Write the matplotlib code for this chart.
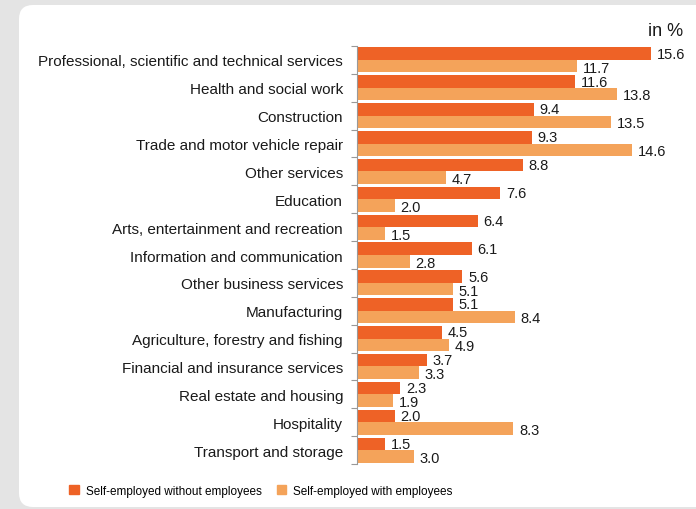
import numpy as np
import matplotlib.pyplot as plt
from matplotlib.patches import FancyBboxPatch, Patch

plt.rcParams['font.family'] = ['Liberation Sans', 'DejaVu Sans']

categories = ['Professional, scientific and technical services', 'Health and social work',
              'Construction', 'Trade and motor vehicle repair', 'Other services', 'Education',
              'Arts, entertainment and recreation', 'Information and communication',
              'Other business services', 'Manufacturing', 'Agriculture, forestry and fishing',
              'Financial and insurance services', 'Real estate and housing', 'Hospitality',
              'Transport and storage']
without_emp = [15.6, 11.6, 9.4, 9.3, 8.8, 7.6, 6.4, 6.1, 5.6, 5.1, 4.5, 3.7, 2.3, 2.0, 1.5]
with_emp = [11.7, 13.8, 13.5, 14.6, 4.7, 2.0, 1.5, 2.8, 5.1, 8.4, 4.9, 3.3, 1.9, 8.3, 3.0]

dark = '#EE6226'
light = '#F4A35A'

fig = plt.figure(figsize=(6.96, 5.10), dpi=100, facecolor='#e4e4e4')
# white rounded panel (inches)
box = FancyBboxPatch((0.19, 0.02), 7.0, 5.02, boxstyle='round,pad=0,rounding_size=0.14',
                     transform=fig.dpi_scale_trans, facecolor='white', edgecolor='none', zorder=-1)
fig.patches.append(box)

ax = fig.add_axes([357/696, 45/510, 339/696, 418/510])
ax.set_zorder(2)
ax.set_facecolor('none')
y = np.arange(len(categories))
h = 0.45
ax.barh(y - h/2, without_emp, height=h, color=dark)
ax.barh(y + h/2, with_emp, height=h, color=light)
for i in range(len(categories)):
    ax.text(without_emp[i] + 0.3, y[i] - h/2, f'{without_emp[i]:.1f}', va='center', ha='left',
            fontsize=10.5, color='#1a1a1a')
    ax.text(with_emp[i] + 0.3, y[i] + h/2 + 0.05, f'{with_emp[i]:.1f}', va='center', ha='left',
            fontsize=10.5, color='#1a1a1a')

ax.set_xlim(0, 18)
ax.set_ylim(len(categories) - 0.5, -0.5)
ax.set_xticks([])
ax.set_yticks(y)
ax.set_yticklabels(categories, fontsize=11, color='#1a1a1a')
ax.tick_params(axis='y', which='major', length=0, pad=10)
ax.set_yticks(np.arange(-0.5, len(categories)), minor=True)
ax.tick_params(axis='y', which='minor', length=4, color='#999999', width=0.8)
for s in ['top', 'right', 'bottom']:
    ax.spines[s].set_visible(False)
ax.spines['left'].set_color('#999999')
ax.spines['left'].set_linewidth(0.8)

fig.text(683/696, 1 - 31/510, 'in %', ha='right', va='center', fontsize=13, color='#1a1a1a')

handles = [Patch(color=dark), Patch(color=light)]
fig.legend(handles, ['Self-employed without employees', 'Self-employed with employees'],
           loc='center', bbox_to_anchor=(261/696, 1 - 492/510), ncol=2, frameon=False,
           fontsize=8.5, handlelength=0.8, handleheight=0.8, handletextpad=0.6, columnspacing=1.3)

fig.savefig('out.png', dpi=100, facecolor=fig.get_facecolor())
